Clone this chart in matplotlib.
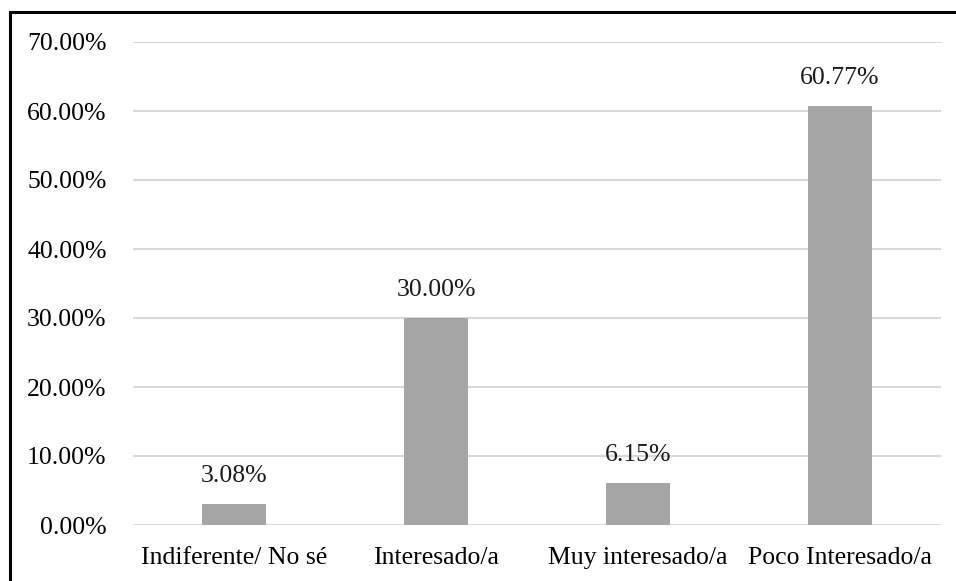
import matplotlib.pyplot as plt
from matplotlib.patches import Rectangle
from matplotlib.ticker import FuncFormatter

# datos del gráfico
categorias = ["Indiferente/ No sé", "Interesado/a", "Muy interesado/a", "Poco Interesado/a"]
porcentajes = [0.0308, 0.30, 0.0615, 0.6077]
etiquetas = ["3.08%", "30.00%", "6.15%", "60.77%"]

plt.rcParams['font.family'] = ['Liberation Serif', 'DejaVu Serif']

fig = plt.figure(figsize=(9.56, 5.81), dpi=100)
ax = fig.add_axes([133 / 956, 56 / 581, 808 / 956, 483 / 581])

pos = range(len(categorias))
bars = ax.bar(pos, porcentajes, width=0.32, color='#A5A5A5', zorder=3)

for b, txt in zip(bars, etiquetas):
    ax.annotate(txt, (b.get_x() + b.get_width() / 2, b.get_height()),
                xytext=(0, 12), textcoords='offset points',
                ha='center', va='bottom', fontsize=18.5, color='#1a1a1a')

ax.set_xlim(-0.5, len(categorias) - 0.5)
ax.set_ylim(0, 0.70)
ax.set_yticks([i / 10 for i in range(8)])
ax.yaxis.set_major_formatter(FuncFormatter(lambda v, p: f"{v * 100:.2f}%"))
ax.set_xticks(list(pos))
ax.set_xticklabels(categorias)
ax.tick_params(axis='both', length=0, labelsize=18.5, colors='#000000')
ax.tick_params(axis='y', pad=19)
ax.tick_params(axis='x', pad=16)
ax.grid(axis='y', color='#D9D9D9', linewidth=1.5, zorder=0)
for s in ax.spines.values():
    s.set_visible(False)

# marco negro (solo izquierda y arriba visibles)
fig.patches.append(Rectangle((10 / 956, -0.2), 1.2, 1.2 - 12 / 581,
                             transform=fig.transFigure, fill=False,
                             edgecolor='black', linewidth=2.2))

fig.savefig('out.png', dpi=100)
